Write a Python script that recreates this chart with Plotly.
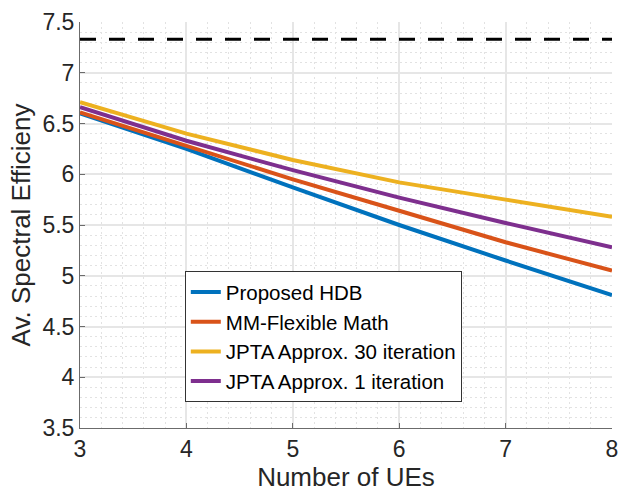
import plotly.graph_objects as go

# Number of UEs on the x axis
num_ues = [3, 4, 5, 6, 7, 8]

# Average spectral efficiency per scheme
proposed_hdb = [6.60, 6.25, 5.87, 5.50, 5.15, 4.81]
mm_flexible = [6.61, 6.28, 5.95, 5.64, 5.33, 5.05]
jpta_30 = [6.71, 6.40, 6.14, 5.92, 5.75, 5.58]
jpta_1 = [6.66, 6.33, 6.04, 5.77, 5.52, 5.28]

# Upper bound drawn as a dashed horizontal line
upper_bound = [7.33] * len(num_ues)

y_ticks = [3.5, 4, 4.5, 5, 5.5, 6, 6.5, 7, 7.5]
y_tick_text = ["3.5", "4", "4.5", "5", "5.5", "6", "6.5", "7", "7.5"]

series = [
    ("Proposed HDB", proposed_hdb, "#0072BD"),
    ("MM-Flexible Math", mm_flexible, "#D95319"),
    ("JPTA Approx. 30 iteration", jpta_30, "#EDB120"),
    ("JPTA Approx. 1 iteration", jpta_1, "#7E2F8E"),
]

font_family = "Liberation Sans, Arial, Helvetica, sans-serif"

fig = go.Figure()

fig.add_trace(go.Scatter(
    x=num_ues, y=upper_bound, mode="lines",
    line=dict(color="black", width=3, dash="16px,13px"),
    showlegend=False, hoverinfo="skip",
))

for name, vals, color in series:
    fig.add_trace(go.Scatter(
        x=num_ues, y=vals, mode="lines", name=name,
        line=dict(color=color, width=4),
    ))

axis_common = dict(
    showgrid=True,
    gridcolor="#e6e6e6",
    gridwidth=1.5,
    showline=True,
    linecolor="#6b6b6b",
    linewidth=1,
    ticks="inside",
    ticklen=5,
    tickcolor="#6b6b6b",
    zeroline=False,
    mirror=False,
    automargin=False,
    ticklabeloverflow="allow",
    tickfont=dict(family=font_family, size=23, color="#262626"),
)

minor_grid = dict(showgrid=True, griddash="2px,3px",
                  gridcolor="#e2e2e2", gridwidth=1)

fig.update_xaxes(
    **axis_common,
    range=[3, 8],
    tickmode="array",
    tickvals=num_ues,
    ticktext=[str(v) for v in num_ues],
    minor=dict(dtick=0.2, **minor_grid),
    title=dict(text="Number of UEs", standoff=6,
               font=dict(family=font_family, size=26, color="#262626")),
)

fig.update_yaxes(
    **axis_common,
    range=[3.5, 7.5],
    tickmode="array",
    tickvals=y_ticks,
    ticktext=y_tick_text,
    minor=dict(dtick=0.1, **minor_grid),
    title=dict(text="Av. Spectral Efficieny", standoff=4,
               font=dict(family=font_family, size=26, color="#262626")),
)

fig.update_layout(
    width=618,
    height=493,
    margin=dict(l=80, r=6, t=22, b=65),
    paper_bgcolor="white",
    plot_bgcolor="white",
    font=dict(family=font_family, color="#262626"),
    legend=dict(
        x=0.197, y=0.386, xanchor="left", yanchor="top",
        bgcolor="white", bordercolor="#333333", borderwidth=1,
        font=dict(family=font_family, size=20.5, color="black"),
        tracegroupgap=0,
    ),
    showlegend=True,
)

fig.write_html("out.html")
